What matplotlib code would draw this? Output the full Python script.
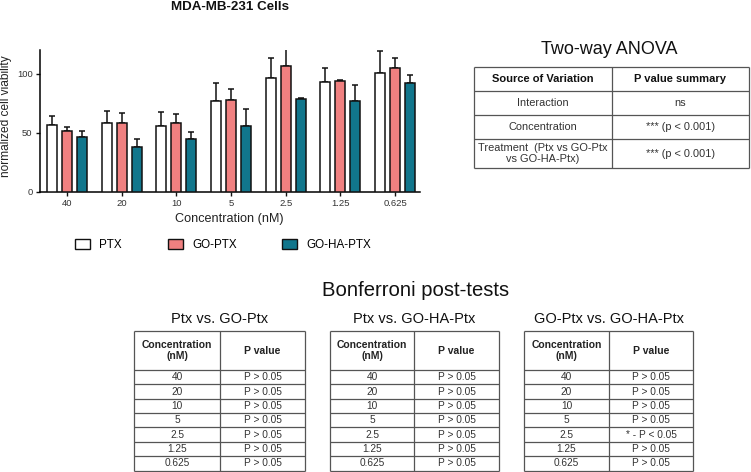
import matplotlib
matplotlib.use("Agg")
import matplotlib.pyplot as plt
from matplotlib.patches import Patch
import numpy as np

plt.rcParams['font.family'] = ['Liberation Sans', 'DejaVu Sans']

# ---------------- data ----------------
concentrations = ["40", "20", "10", "5", "2.5", "1.25", "0.625"]
series_names = ["PTX", "GO-PTX", "GO-HA-PTX"]
ptx_mean = [56.6, 57.8, 56.0, 76.9, 96.6, 93.2, 100.5]
ptx_err = [7.9, 10.9, 11.3, 14.9, 16.9, 11.3, 19.0]
goptx_mean = [51.3, 58.6, 58.3, 78.0, 106.2, 94.0, 104.5]
goptx_err = [3.6, 8.1, 7.9, 9.0, 16.0, 1.0, 8.5]
gohaptx_mean = [46.2, 38.0, 44.8, 56.0, 78.9, 76.6, 92.4]
gohaptx_err = [5.1, 6.3, 5.6, 14.4, 0.5, 14.1, 6.4]

anova_header = ["Source of Variation", "P value summary"]
anova_sources = ["Interaction", "Concentration", "Treatment  (Ptx vs GO-Ptx\nvs GO-HA-Ptx)"]
anova_p = ["ns", "*** (p < 0.001)", "*** (p < 0.001)"]

bonf_titles = ["Ptx vs. GO-Ptx", "Ptx vs. GO-HA-Ptx", "GO-Ptx vs. GO-HA-Ptx"]
bonf_header = ["Concentration\n(nM)", "P value"]
bonf_p1 = ["P > 0.05"] * 7
bonf_p2 = ["P > 0.05"] * 7
bonf_p3 = ["P > 0.05", "P > 0.05", "P > 0.05", "P > 0.05", "* - P < 0.05", "P > 0.05", "P > 0.05"]

colors = ["white", "#F08080", "#11768C"]

# ---------------- figure ----------------
W, H = 751, 472
fig = plt.figure(figsize=(W / 100, H / 100), dpi=100)

def px_rect(x0, y0, x1, y1):
    return [x0 / W, 1 - y1 / H, (x1 - x0) / W, (y1 - y0) / H]

ax = fig.add_axes(px_rect(39.5, 50, 420, 191.7))
x = np.arange(len(concentrations))
bw = 0.183
off = 0.274
means = [ptx_mean, goptx_mean, gohaptx_mean]
errs = [ptx_err, goptx_err, gohaptx_err]
for i, (m, e, c) in enumerate(zip(means, errs, colors)):
    xp = x + (i - 1) * off
    ax.bar(xp, m, width=bw, color=c, edgecolor="#111111", linewidth=1.1, zorder=3,
           label=series_names[i])
    ax.errorbar(xp, m, yerr=[np.zeros(len(e)), e], fmt="none", ecolor="#111111",
                elinewidth=1.1, capsize=2.4, capthick=1.1, zorder=2)

ax.set_xlim(-0.503, 6.457)
ax.set_ylim(0, 120)
ax.set_yticks([0, 50, 100])
ax.set_xticks(x)
ax.set_xticklabels(concentrations)
for s in ["top", "right"]:
    ax.spines[s].set_visible(False)
for s in ["left", "bottom"]:
    ax.spines[s].set_linewidth(1.1)
ax.tick_params(axis="both", labelsize=6.8, width=1.0, length=3, colors="#111111",
               labelcolor="#333333", pad=2)
ax.set_xlabel("Concentration (nM)", fontsize=9.1, color="#222222")
ax.set_ylabel("normalized cell viability", fontsize=8.6, color="#222222")
ax.xaxis.set_label_coords(0.5, -0.15)
ax.yaxis.set_label_coords(-0.071, 0.534)

fig.text(230 / W, 1 - 7 / H, "MDA-MB-231 Cells", fontsize=9.6, fontweight="bold",
         ha="center", va="center", color="#111111")

handles = [Patch(facecolor=c, edgecolor="#111111", linewidth=1.0) for c in colors]
fig.legend(handles, series_names, loc="center left", bbox_to_anchor=(75 / W, 1 - 245 / H),
           ncol=3, frameon=False, fontsize=8.4, handlelength=1.3, handleheight=0.85,
           handletextpad=0.8, columnspacing=3.9, borderpad=0, borderaxespad=0)

# ---------------- overlay for tables ----------------
ov = fig.add_axes([0, 0, 1, 1])
ov.set_xlim(0, W)
ov.set_ylim(H, 0)
ov.axis("off")
lc = "#555555"
lw = 0.9

def draw_grid(xs, ys):
    for yy in ys:
        ov.plot([xs[0], xs[-1]], [yy, yy], color=lc, lw=lw, solid_capstyle="butt")
    for xx in xs:
        ov.plot([xx, xx], [ys[0], ys[-1]], color=lc, lw=lw, solid_capstyle="butt")

# ANOVA table
ov.text(609, 50, "Two-way ANOVA", fontsize=13, ha="center", va="center", color="#111111")
axs = [474, 612, 749]
ays = [67.3, 91, 115, 139, 168.3]
draw_grid(axs, ays)
for j, h in enumerate(anova_header):
    ov.text((axs[j] + axs[j + 1]) / 2, (ays[0] + ays[1]) / 2, h, fontsize=8,
            fontweight="bold", ha="center", va="center", color="#111111")
for r, (src, p) in enumerate(zip(anova_sources, anova_p)):
    yc = (ays[r + 1] + ays[r + 2]) / 2
    ov.text((axs[0] + axs[1]) / 2, yc, src, fontsize=7.9, ha="center", va="center",
            color="#333333", linespacing=1.05)
    ov.text((axs[1] + axs[2]) / 2, yc, p, fontsize=7.9, ha="center", va="center",
            color="#333333")

# Bonferroni
ov.text(416, 290, "Bonferroni post-tests", fontsize=14.6, ha="center", va="center",
        color="#111111")
tables_x = [(134, 220, 305), (330, 414, 499), (524, 609, 693)]
bys = [331, 370] + [370 + (470.5 - 370) * (k + 1) / 7 for k in range(7)]
for t, (title, pv) in enumerate(zip(bonf_titles, [bonf_p1, bonf_p2, bonf_p3])):
    xs = tables_x[t]
    ov.text((xs[0] + xs[2]) / 2, 319, title, fontsize=10.5, ha="center", va="center",
            color="#111111")
    draw_grid(xs, bys)
    for j, h in enumerate(bonf_header):
        ov.text((xs[j] + xs[j + 1]) / 2, (bys[0] + bys[1]) / 2, h, fontsize=7.5,
                fontweight="bold", ha="center", va="center", color="#222222",
                linespacing=1.15)
    for r, (cval, p) in enumerate(zip(concentrations, pv)):
        yc = (bys[r + 1] + bys[r + 2]) / 2
        ov.text((xs[0] + xs[1]) / 2, yc, cval, fontsize=7.3, ha="center", va="center",
                color="#333333")
        ov.text((xs[1] + xs[2]) / 2, yc, p, fontsize=7.3, ha="center", va="center",
                color="#333333")

fig.savefig("out.png", dpi=100)
